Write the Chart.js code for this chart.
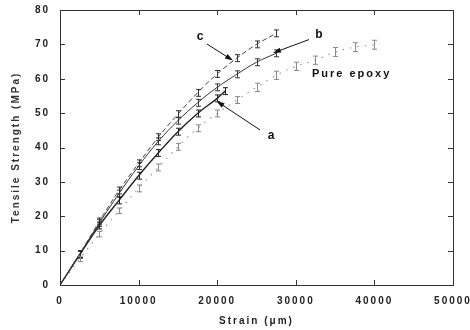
<!DOCTYPE html>
<html>
<head>
<meta charset="utf-8">
<script src="https://cdn.jsdelivr.net/npm/chart.js@4.4.1/dist/chart.umd.min.js"></script>
<style>
    body { margin: 0; overflow: hidden; background: #fff; }
    #wrap { width: 470px; height: 330px; }
</style>
</head>
<body>
<div id="wrap"><canvas id="strengthChart"></canvas></div>
<script>
// values (strain in µm, strength in MPa)
const strainC = [0, 2500, 5000, 7500, 10000, 12500, 15000, 17500, 20000, 22500, 25000, 27500];
const tensileC = [0, 9.0, 18.5, 27.5, 35.4, 43.0, 49.7, 55.9, 61.4, 66.0, 70.0, 73.2];
const errC = [0, 1, 1, 1, 1, 1, 1, 1, 1, 1, 1, 1];

const strainB = [0, 2500, 5000, 7500, 10000, 12500, 15000, 17500, 20000, 22500, 25000, 27500];
const tensileB = [0, 9.0, 18.0, 26.6, 34.6, 41.8, 47.8, 53.0, 57.5, 61.3, 64.8, 67.4];
const errB = [0, 1, 1, 1, 1, 1, 1, 1, 1, 1, 1, 1];

const strainA = [0, 2500, 5000, 7500, 10000, 12500, 15000, 17500, 20000, 21000];
const tensileA = [0, 8.8, 17.3, 24.6, 31.8, 38.4, 44.6, 49.9, 54.3, 56.4];
const errA = [0, 1, 1, 1, 1, 1, 1, 1, 1, 1];

const strainEpoxy = [0, 2500, 5000, 7500, 10000, 12500, 15000, 17500, 20000, 22500, 25000, 27500, 30000, 32500, 35000, 37500, 40000];
const tensileEpoxy = [0, 7.6, 14.8, 21.6, 28.1, 34.2, 40.2, 45.6, 49.9, 53.8, 57.5, 61.0, 63.6, 65.4, 67.8, 69.2, 69.9];
const errEpoxy = [0, 0.8, 0.8, 0.8, 1, 1, 1, 1, 1, 1, 1.2, 1.2, 1.2, 1.2, 1.3, 1.3, 1.3];

const xTicks = [0, 10000, 20000, 30000, 40000, 50000];
const yTicks = [0, 10, 20, 30, 40, 50, 60, 70, 80];

// curve labels and arrows, in data units
const curveLabels = [
    { text: "c", x: 17810, y: 72.1, from: [18700, 70.1], to: [22010, 65.3] },
    { text: "b", x: 32950, y: 72.7, from: [31680, 71.4], to: [27100, 67.5] },
    { text: "a", x: 26840, y: 43.3, from: [25450, 45.1], to: [19910, 53.5] }
];
const epoxyLabel = { text: "Pure epoxy", x: 32060, y: 61.4 };

const seriesErr = [errC, errB, errA, errEpoxy];
const seriesStrain = [strainC, strainB, strainA, strainEpoxy];
const barColors = ["#333", "#333", "#222", "#888"];

function toPoints(xs, ys)
{
    return xs.map((x, i) => ({ x: x, y: ys[i] }));
}

function drawArrow(ctx, x1, y1, x2, y2)
{
    const ang = Math.atan2(y2 - y1, x2 - x1);
    const len = 8, half = 2.6;
    ctx.beginPath();
    ctx.moveTo(x1, y1);
    ctx.lineTo(x2 - Math.cos(ang) * len * 0.6, y2 - Math.sin(ang) * len * 0.6);
    ctx.stroke();
    ctx.beginPath();
    ctx.moveTo(x2, y2);
    ctx.lineTo(x2 - Math.cos(ang) * len - Math.sin(ang) * half, y2 - Math.sin(ang) * len + Math.cos(ang) * half);
    ctx.lineTo(x2 - Math.cos(ang) * len + Math.sin(ang) * half, y2 - Math.sin(ang) * len - Math.cos(ang) * half);
    ctx.closePath();
    ctx.fill();
}

const decorPlugin = {
    id: "decor",
    beforeLayout(chart) {
        chart.ctx.letterSpacing = "2px";
    },
    beforeDraw(chart) {
        chart.ctx.letterSpacing = "2px";
    },
    afterDatasetsDraw(chart) {
        const ctx = chart.ctx;
        const xs = chart.scales.x, ys = chart.scales.y;
        ctx.save();
        ctx.lineWidth = 1;
        seriesErr.forEach((errs, d) => {
            const data = chart.data.datasets[d].data;
            ctx.strokeStyle = barColors[d];
            errs.forEach((e, i) => {
                if(e <= 0) return;
                const px = Math.round(xs.getPixelForValue(seriesStrain[d][i])) + 0.5;
                const top = ys.getPixelForValue(data[i].y + e);
                const bot = ys.getPixelForValue(data[i].y - e);
                ctx.beginPath();
                ctx.moveTo(px, top); ctx.lineTo(px, bot);
                ctx.moveTo(px - 2.5, top); ctx.lineTo(px + 2.5, top);
                ctx.moveTo(px - 2.5, bot); ctx.lineTo(px + 2.5, bot);
                ctx.stroke();
            });
        });
        ctx.restore();
    },
    afterDraw(chart) {
        const ctx = chart.ctx;
        const a = chart.chartArea;
        const xs = chart.scales.x, ys = chart.scales.y;
        ctx.save();
        ctx.strokeStyle = "#333";
        ctx.lineWidth = 1;
        ctx.strokeRect(Math.round(a.left) + 0.5, Math.round(a.top) + 0.5, Math.round(a.right - a.left), Math.round(a.bottom - a.top));

        // inward ticks on all four sides
        ctx.beginPath();
        xTicks.forEach(v => {
            const px = Math.round(xs.getPixelForValue(v)) + 0.5;
            ctx.moveTo(px, a.bottom); ctx.lineTo(px, a.bottom - 5);
            ctx.moveTo(px, a.top); ctx.lineTo(px, a.top + 5);
        });
        yTicks.forEach(v => {
            const py = Math.round(ys.getPixelForValue(v)) + 0.5;
            ctx.moveTo(a.left, py); ctx.lineTo(a.left + 5, py);
            ctx.moveTo(a.right, py); ctx.lineTo(a.right - 5, py);
        });
        ctx.stroke();

        // labels a, b, c with arrows
        ctx.fillStyle = "#111";
        ctx.strokeStyle = "#111";
        ctx.lineWidth = 1;
        ctx.letterSpacing = "0px";
        ctx.font = "bold 12px 'Liberation Sans', Arial, sans-serif";
        ctx.textAlign = "center";
        ctx.textBaseline = "middle";
        curveLabels.forEach(l => {
            ctx.fillText(l.text, xs.getPixelForValue(l.x), ys.getPixelForValue(l.y));
            drawArrow(ctx, xs.getPixelForValue(l.from[0]), ys.getPixelForValue(l.from[1]),
                           xs.getPixelForValue(l.to[0]), ys.getPixelForValue(l.to[1]));
        });

        ctx.letterSpacing = "2px";
        ctx.font = "bold 11px 'Liberation Sans', Arial, sans-serif";
        ctx.textAlign = "left";
        ctx.fillText(epoxyLabel.text, xs.getPixelForValue(epoxyLabel.x), ys.getPixelForValue(epoxyLabel.y));
        ctx.restore();
    }
};

const tickFont = { family: "'Liberation Sans', Arial, sans-serif", size: 10, weight: "bold" };

new Chart(document.getElementById("strengthChart").getContext("2d"), {
    type: "line",
    data: {
        datasets: [
            {
                label: "c",
                data: toPoints(strainC, tensileC),
                borderColor: "#444",
                borderWidth: 1,
                borderDash: [5, 3]
            },
            {
                label: "b",
                data: toPoints(strainB, tensileB),
                borderColor: "#333",
                borderWidth: 1
            },
            {
                label: "a",
                data: toPoints(strainA, tensileA),
                borderColor: "#222",
                borderWidth: 1.4
            },
            {
                label: "Pure epoxy",
                data: toPoints(strainEpoxy, tensileEpoxy),
                borderColor: "#999",
                borderWidth: 1.2,
                borderDash: [1.5, 6]
            }
        ]
    },
    options: {
        responsive: true,
        maintainAspectRatio: false,
        animation: false,
        layout: { padding: { top: 10, right: 17, bottom: 0, left: 0 } },
        elements: {
            point: { radius: 0 },
            line: { tension: 0.4, fill: false }
        },
        plugins: {
            legend: { display: false },
            tooltip: { enabled: false }
        },
        scales: {
            x: {
                type: "linear",
                min: 0,
                max: 50000,
                afterFit: s => { s.height = 45; s.paddingLeft = 0; s.paddingRight = 0; },
                grid: { display: false, drawTicks: false },
                border: { display: false },
                ticks: {
                    stepSize: 10000,
                    maxRotation: 0,
                    autoSkip: false,
                    padding: 10,
                    color: "#222",
                    font: tickFont,
                    callback: v => String(v)
                },
                title: {
                    display: true,
                    text: "Strain (\u03bcm)",
                    color: "#222",
                    font: tickFont,
                    padding: { top: 0, bottom: 3 }
                }
            },
            y: {
                min: 0,
                max: 80,
                afterFit: s => { s.width = 60; s.paddingTop = 0; s.paddingBottom = 0; },
                grid: { display: false, drawTicks: false },
                border: { display: false },
                ticks: {
                    stepSize: 10,
                    padding: 10,
                    color: "#222",
                    font: tickFont
                },
                title: {
                    display: true,
                    text: "Tensile Strength (MPa)",
                    color: "#333",
                    font: { family: "'Liberation Sans', Arial, sans-serif", size: 10, weight: "bold" },
                    padding: { top: 10, bottom: 0 }
                }
            }
        }
    },
    plugins: [decorPlugin]
});
</script>
</body>
</html>
